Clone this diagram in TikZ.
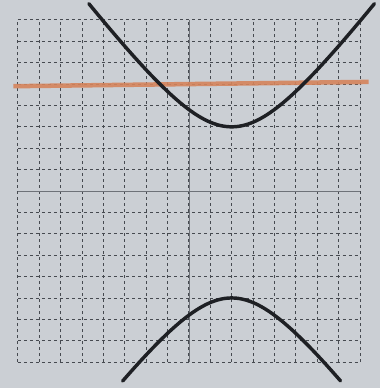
\documentclass[tikz,border=0pt]{standalone}
\definecolor{paper}{RGB}{203,207,212}
\definecolor{gridc}{RGB}{70,74,80}
\definecolor{axisc}{RGB}{110,114,120}
\definecolor{inkc}{RGB}{30,32,36}
\definecolor{orangec}{RGB}{214,132,92}
\tikzset{
  gridline/.style={gridc, line width=1.1pt, dash pattern=on 4pt off 4pt},
  axisline/.style={axisc, line width=0.9pt},
  curve/.style={inkc, line width=4.6pt, line cap=round},
  mark line/.style={orangec, line width=6pt, opacity=0.9},
}
\begin{document}
\begin{tikzpicture}[x=1cm,y=1cm]
\fill[paper] (-8.83,-9.21) rectangle (8.93,8.93);
\useasboundingbox (-8.83,-9.21) rectangle (8.93,8.93);
% dashed grid
\foreach \k in {-8,...,8} {
  \draw[gridline] (\k,-8) -- (\k,8);
  \draw[gridline] (-8,\k) -- (8,\k);
}
% axes
\draw[axisline] (-8,0) -- (8,0);
\draw[axisline] (0,-8) -- (0,8);
% orange line y = 5
\draw[mark line] (-8.2,4.9) -- (8.4,5.1);
% hyperbola (y+1)^2/16 - (x-2)^2/9 = 1
\draw[curve] plot[domain=-1.54:1.54, samples=80, variable=\t]
  ({2+3*sinh(\t)}, {-1+4*cosh(\t)});
\draw[curve] plot[domain=-1.30:1.30, samples=80, variable=\t]
  ({2+3*sinh(\t)}, {-1-4*cosh(\t)});
\end{tikzpicture}
\end{document}
